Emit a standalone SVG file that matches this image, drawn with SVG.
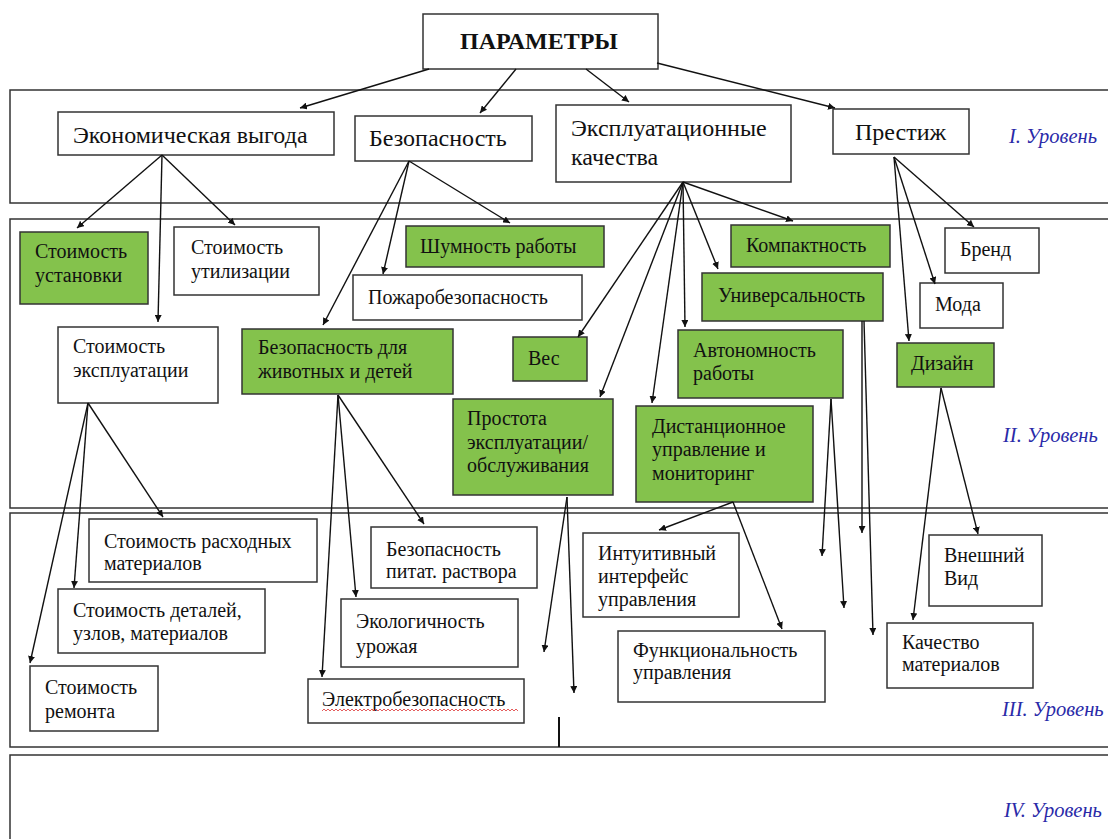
<svg xmlns="http://www.w3.org/2000/svg" width="1108" height="839" viewBox="0 0 1108 839">
<style>
.band{fill:none;stroke:#333;stroke-width:1.5}
.w{fill:#fff;stroke:#333;stroke-width:1.5}
.g{fill:#84c24c;stroke:#333;stroke-width:1.5}
.t{font-family:"Liberation Serif","Times New Roman",serif;font-size:20px;fill:#111}
.t1{font-family:"Liberation Serif","Times New Roman",serif;font-size:24px;fill:#111}
.lv{font-family:"Liberation Serif","Times New Roman",serif;font-size:20.5px;font-style:italic;fill:#2a2aa8}
.c line{stroke:#111;stroke-width:1.4;marker-end:url(#ah)}
.c line.n{marker-end:none}
</style>
<defs>
<marker id="ah" viewBox="0 0 10 10" refX="10" refY="5" markerWidth="7" markerHeight="7" orient="auto" markerUnits="userSpaceOnUse">
<path d="M0,0 L10,5 L0,10 z" fill="#111"/>
</marker>
</defs>
<rect width="1108" height="839" fill="#fff"/>

<g id="bands">
<rect class="band" x="10" y="90" width="1110" height="113"/>
<rect class="band" x="10" y="219" width="1110" height="289"/>
<rect class="band" x="10" y="513" width="1110" height="234"/>
<rect class="band" x="10" y="755" width="1110" height="100"/>
<text class="lv" x="1009" y="143">I. Уровень</text>
<text class="lv" x="1003" y="442">II. Уровень</text>
<text class="lv" x="1002" y="716">III. Уровень</text>
<text class="lv" x="1004" y="817">IV. Уровень</text>
</g>

<g id="root">
<rect class="w" x="423" y="14" width="235" height="55"/>
<text x="539" y="49" text-anchor="middle" font-family="Liberation Serif, Times New Roman, serif" font-size="24" font-weight="bold" fill="#111">ПАРАМЕТРЫ</text>
</g>

<g id="econ"><rect class="w" x="58" y="112" width="276" height="43"/><text class="t1" x="73" y="143">Экономическая выгода</text></g>
<g id="safety"><rect class="w" x="355" y="116" width="177" height="45"/><text class="t1" x="369" y="146">Безопасность</text></g>
<g id="exploit"><rect class="w" x="556" y="105" width="235" height="77"/><text class="t1" x="571" y="136">Эксплуатационные</text><text class="t1" x="571" y="165">качества</text></g>
<g id="prestige"><rect class="w" x="833" y="109" width="136" height="45"/><text class="t1" x="855" y="140">Престиж</text></g>

<g id="n-install"><rect class="g" x="20" y="232" width="128" height="72"/><text class="t" x="35" y="258">Стоимость</text><text class="t" x="35" y="282">установки</text></g>
<g id="n-util"><rect class="w" x="174" y="227" width="145" height="68"/><text class="t" x="191" y="254">Стоимость</text><text class="t" x="191" y="278">утилизации</text></g>
<g id="n-oper"><rect class="w" x="58" y="327" width="160" height="76"/><text class="t" x="73" y="353">Стоимость</text><text class="t" x="73" y="377">эксплуатации</text></g>
<g id="n-kids"><rect class="g" x="242" y="329" width="211" height="65"/><text class="t" x="258" y="354">Безопасность для</text><text class="t" x="258" y="378">животных и детей</text></g>
<g id="n-noise"><rect class="g" x="406" y="226" width="198" height="41"/><text class="t" x="420" y="253">Шумность работы</text></g>
<g id="n-fire"><rect class="w" x="353" y="275" width="229" height="45"/><text class="t" x="368" y="304">Пожаробезопасность</text></g>
<g id="n-weight"><rect class="g" x="513" y="337" width="74" height="44"/><text class="t" x="528" y="365">Вес</text></g>
<g id="n-simple"><rect class="g" x="453" y="399" width="160" height="96"/><text class="t" x="467" y="425">Простота</text><text class="t" x="467" y="449">эксплуатации/</text><text class="t" x="467" y="472">обслуживания</text></g>
<g id="n-compact"><rect class="g" x="731" y="225" width="159" height="42"/><text class="t" x="746" y="252">Компактность</text></g>
<g id="n-univ"><rect class="g" x="702" y="273" width="181" height="48"/><text class="t" x="718" y="302">Универсальность</text></g>
<g id="n-auto"><rect class="g" x="678" y="330" width="165" height="68"/><text class="t" x="693" y="357">Автономность</text><text class="t" x="693" y="380">работы</text></g>
<g id="n-remote"><rect class="g" x="636" y="406" width="177" height="96"/><text class="t" x="652" y="433">Дистанционное</text><text class="t" x="652" y="456">управление и</text><text class="t" x="652" y="480">мониторинг</text></g>
<g id="n-brand"><rect class="w" x="945" y="228" width="94" height="45"/><text class="t" x="960" y="256">Бренд</text></g>
<g id="n-fashion"><rect class="w" x="920" y="283" width="83" height="45"/><text class="t" x="935" y="311">Мода</text></g>
<g id="n-design"><rect class="g" x="897" y="343" width="97" height="44"/><text class="t" x="911" y="370">Дизайн</text></g>

<g id="n-consum"><rect class="w" x="89" y="519" width="228" height="63"/><text class="t" x="104" y="548">Стоимость расходных</text><text class="t" x="104" y="570">материалов</text></g>
<g id="n-parts"><rect class="w" x="58" y="589" width="207" height="64"/><text class="t" x="73" y="617">Стоимость деталей,</text><text class="t" x="73" y="640">узлов, материалов</text></g>
<g id="n-repair"><rect class="w" x="30" y="666" width="128" height="65"/><text class="t" x="45" y="694">Стоимость</text><text class="t" x="45" y="718">ремонта</text></g>
<g id="n-nutr"><rect class="w" x="371" y="527" width="166" height="61"/><text class="t" x="386" y="556">Безопасность</text><text class="t" x="386" y="578">питат. раствора</text></g>
<g id="n-eco"><rect class="w" x="341" y="599" width="177" height="68"/><text class="t" x="356" y="628">Экологичность</text><text class="t" x="356" y="653">урожая</text></g>
<g id="n-elec"><rect class="w" x="308" y="679" width="216" height="44"/><text class="t" x="322" y="706">Электробезопасность</text>
<path d="M322,711 l2,-2 l2,2 l2,-2 l2,2 l2,-2 l2,2 l2,-2 l2,2 l2,-2 l2,2 l2,-2 l2,2 l2,-2 l2,2 l2,-2 l2,2 l2,-2 l2,2 l2,-2 l2,2 l2,-2 l2,2 l2,-2 l2,2 l2,-2 l2,2 l2,-2 l2,2 l2,-2 l2,2 l2,-2 l2,2 l2,-2 l2,2 l2,-2 l2,2 l2,-2 l2,2 l2,-2 l2,2 l2,-2 l2,2 l2,-2 l2,2 l2,-2 l2,2 l2,-2 l2,2 l2,-2 l2,2 l2,-2 l2,2 l2,-2 l2,2 l2,-2 l2,2 l2,-2 l2,2 l2,-2 l2,2 l2,-2 l2,2 l2,-2 l2,2 l2,-2 l2,2 l2,-2 l2,2 l2,-2 l2,2 l2,-2 l2,2 l2,-2 l2,2 l2,-2 l2,2 l2,-2 l2,2 l2,-2 l2,2 l2,-2 l2,2 l2,-2 l2,2 l2,-2 l2,2 l2,-2 l2,2 l2,-2 l2,2 l2,-2 l2,2 l2,-2 l2,2 l2,-2 l2,2 l2,-2 l2,2" fill="none" stroke="#d33" stroke-width="0.8"/></g>
<g id="n-intuit"><rect class="w" x="583" y="533" width="156" height="84"/><text class="t" x="598" y="560">Интуитивный</text><text class="t" x="598" y="583">интерфейс</text><text class="t" x="598" y="606">управления</text></g>
<g id="n-func"><rect class="w" x="618" y="631" width="207" height="71"/><text class="t" x="633" y="657">Функциональность</text><text class="t" x="633" y="679">управления</text></g>
<g id="n-look"><rect class="w" x="929" y="535" width="113" height="71"/><text class="t" x="944" y="562">Внешний</text><text class="t" x="944" y="585">Вид</text></g>
<g id="n-quality"><rect class="w" x="887" y="623" width="146" height="65"/><text class="t" x="902" y="649">Качество</text><text class="t" x="902" y="671">материалов</text></g>

<g id="connectors" class="c">
<line x1="429" y1="69" x2="300" y2="108"/>
<line x1="516" y1="69" x2="480" y2="113"/>
<line x1="586" y1="69" x2="629" y2="102"/>
<line x1="657" y1="63" x2="835" y2="108"/>

<line x1="162" y1="155" x2="77" y2="228"/>
<line x1="162" y1="155" x2="158" y2="322"/>
<line x1="162" y1="155" x2="235" y2="225"/>

<line x1="409" y1="161" x2="323" y2="325"/>
<line x1="409" y1="161" x2="383" y2="274"/>
<line x1="409" y1="161" x2="510" y2="223"/>

<line x1="683" y1="182" x2="578" y2="337"/>
<line x1="683" y1="182" x2="600" y2="397"/>
<line x1="683" y1="182" x2="652" y2="403"/>
<line x1="683" y1="182" x2="685" y2="327"/>
<line x1="683" y1="182" x2="718" y2="269"/>
<line x1="683" y1="182" x2="793" y2="221"/>

<line x1="894" y1="157" x2="909" y2="341"/>
<line x1="894" y1="157" x2="935" y2="284"/>
<line x1="894" y1="157" x2="974" y2="227"/>

<line x1="88" y1="403" x2="30" y2="663"/>
<line x1="88" y1="403" x2="74" y2="588"/>
<line x1="88" y1="403" x2="163" y2="517"/>

<line x1="338" y1="395" x2="322" y2="677"/>
<line x1="338" y1="395" x2="356" y2="597"/>
<line x1="338" y1="395" x2="424" y2="524"/>

<line x1="567" y1="497" x2="544" y2="652"/>
<line x1="567" y1="497" x2="574" y2="693"/>

<line x1="733" y1="502" x2="659" y2="530"/>
<line x1="733" y1="502" x2="782" y2="629"/>

<line x1="831" y1="399" x2="822" y2="556"/>
<line x1="831" y1="399" x2="844" y2="608"/>

<line x1="862" y1="321" x2="862" y2="533"/>
<line x1="864" y1="321" x2="873" y2="635"/>

<line x1="941" y1="388" x2="913" y2="620"/>
<line x1="941" y1="388" x2="978" y2="534"/>

<line class="n" x1="559" y1="717" x2="559" y2="747" style="stroke-width:2"/>
</g>
</svg>
